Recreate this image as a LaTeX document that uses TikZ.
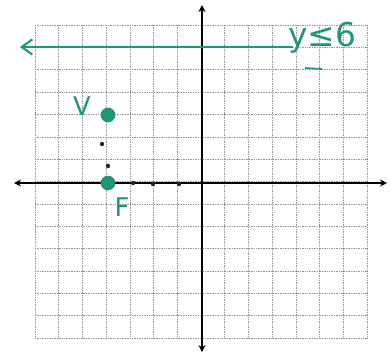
\documentclass[tikz,border=0pt]{standalone}
\usepackage{fontspec}
\setmainfont{DejaVu Sans}
\usetikzlibrary{arrows.meta}
\definecolor{ink}{RGB}{32,150,118}
\definecolor{gridc}{RGB}{150,150,150}
\begin{document}
\begin{tikzpicture}[x=0.3mm,y=-0.3mm,
  gridline/.style={gridc,line width=0.45pt,densely dotted},
  axis/.style={black,line width=1.4pt,-{Stealth[length=6pt,width=6pt]}},
  greenline/.style={ink,line width=1.8pt,line cap=round},
  bigdot/.style={circle,fill=ink,inner sep=0pt,minimum size=4.4mm},
  smalldot/.style={circle,fill=black!85,inner sep=0pt,minimum size=1.3mm},
  lab/.style={ink,font=\fontsize{22}{22}\selectfont}]
\useasboundingbox (0,0) rectangle (391,354);
% grid
\foreach \i in {0,...,14} {
  \draw[gridline] ({35+23.71*\i},25) -- ({35+23.71*\i},338);
  \draw[gridline] (35,{25+22.36*\i}) -- (367,{25+22.36*\i});
}
% axes
\coordinate (xl) at (14,183);
\coordinate (xr) at (387,183);
\coordinate (yt) at (202,5);
\coordinate (yb) at (202,352);
\draw[axis] (202,183) -- (xr);
\draw[axis] (202,183) -- (xl);
\draw[axis] (202,183) -- (yt);
\draw[axis] (202,183) -- (yb);
% green line y=6
\coordinate (gl) at (20,47);
\coordinate (gr) at (292,47);
\draw[greenline,-{Straight Barb[length=9pt,width=13pt,line width=1.8pt]}] (gr) -- (gl);
\node[lab,anchor=west,font=\fontsize{28}{28}\selectfont] (ineq) at (284,38) {y≤6};
\coordinate (m1) at (305,68);
\coordinate (m2) at (322,69);
\draw[ink,line width=1.4pt] (m1) -- (m2);
% points
\node[bigdot] (pV) at (108,115) {};
\node[bigdot] (pF) at (108,183) {};
\node[lab] (lV) at (82,106) {V};
\node[lab] (lF) at (122,207) {F};
% small marks
\node[smalldot] (d1) at (102,144) {};
\node[smalldot] (d2) at (108,166) {};
\node[smalldot] (d3) at (133,183) {};
\node[smalldot] (d4) at (153,184) {};
\node[smalldot] (d5) at (179,184) {};
\end{tikzpicture}
\end{document}
